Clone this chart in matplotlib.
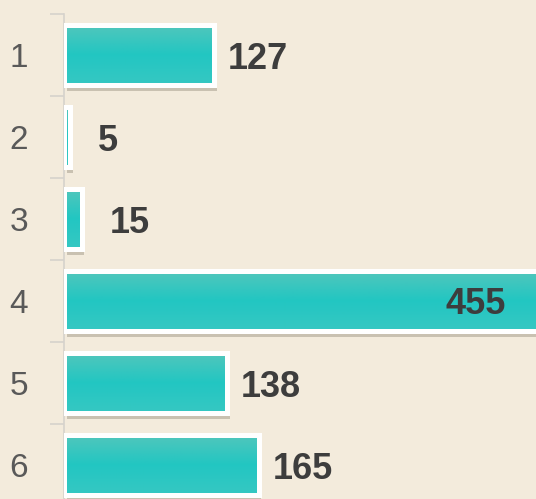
import numpy as np
import matplotlib.pyplot as plt
import matplotlib.patheffects as pe
from matplotlib.colors import LinearSegmentedColormap

categorias = ['1', '2', '3', '4', '5', '6']
valores = [127, 5, 15, 455, 138, 165]

fundo = '#f3ebdc'
teal = '#2cc5bf'

fig = plt.figure(figsize=(5.36, 4.99), dpi=100)
fig.patch.set_facecolor(fundo)
ax = fig.add_axes([64 / 536, 1 - 506 / 499, 1 - 64 / 536, 492 / 499])
ax.set_facecolor(fundo)

y = np.arange(len(categorias))
barras = ax.barh(y, valores, height=0.74, color=teal, edgecolor='white',
                 linewidth=3.6, zorder=3)

# gradiente leve em cada barra + sombra
grad = np.linspace(0, 1, 64).reshape(-1, 1)
cmap = LinearSegmentedColormap.from_list('t', ['#52c6bc', '#22c6c2', '#36c8c2'])
for b in barras:
    b.set_path_effects([pe.SimplePatchShadow(offset=(2, -4), shadow_rgbFace='#6a6050', alpha=0.3),
                        pe.Normal()])
    x0, y0 = b.get_x(), b.get_y()
    w, h = b.get_width(), b.get_height()
    im = ax.imshow(grad, aspect='auto', cmap=cmap, extent=(x0, x0 + w, y0 + h, y0),
                   zorder=3.5, interpolation='bilinear')
    im.set_clip_path(b)
    ax.add_patch(plt.Rectangle((x0, y0), w, h, fill=False, edgecolor='white',
                               linewidth=3.6, zorder=4, clip_on=True))

ax.set_xlim(0, 400)
ax.set_ylim(5.5, -0.5)

# rótulos dos valores
for i, v in enumerate(valores):
    if v > 400:
        ax.annotate(str(v), xy=(400, i), xytext=(-30, -4), textcoords='offset pixels',
                    ha='right', va='center', fontsize=26, fontweight='bold',
                    color='#3d3d3d', family='Liberation Sans', zorder=5)
    else:
        ax.annotate(str(v), xy=(v, i), xytext=(14 if v > 50 else 28, -5),
                    textcoords='offset pixels', ha='left', va='center', fontsize=26,
                    fontweight='bold', color='#3d3d3d', family='Liberation Sans', zorder=5)

ax.set_yticks(y)
ax.set_yticklabels(categorias, fontsize=24, color='#595959', family='Liberation Sans')
ax.tick_params(axis='y', which='major', length=0, pad=26)
ax.set_yticks(np.arange(-0.5, 6, 1), minor=True)
ax.tick_params(axis='y', which='minor', length=10, color='#d6d2cc', width=1.2)
ax.set_xticks([])
for s in ['top', 'right', 'bottom']:
    ax.spines[s].set_visible(False)
ax.spines['left'].set_color('#d6d2cc')
ax.spines['left'].set_linewidth(1.2)

plt.savefig('out.png', dpi=100, facecolor=fundo)
